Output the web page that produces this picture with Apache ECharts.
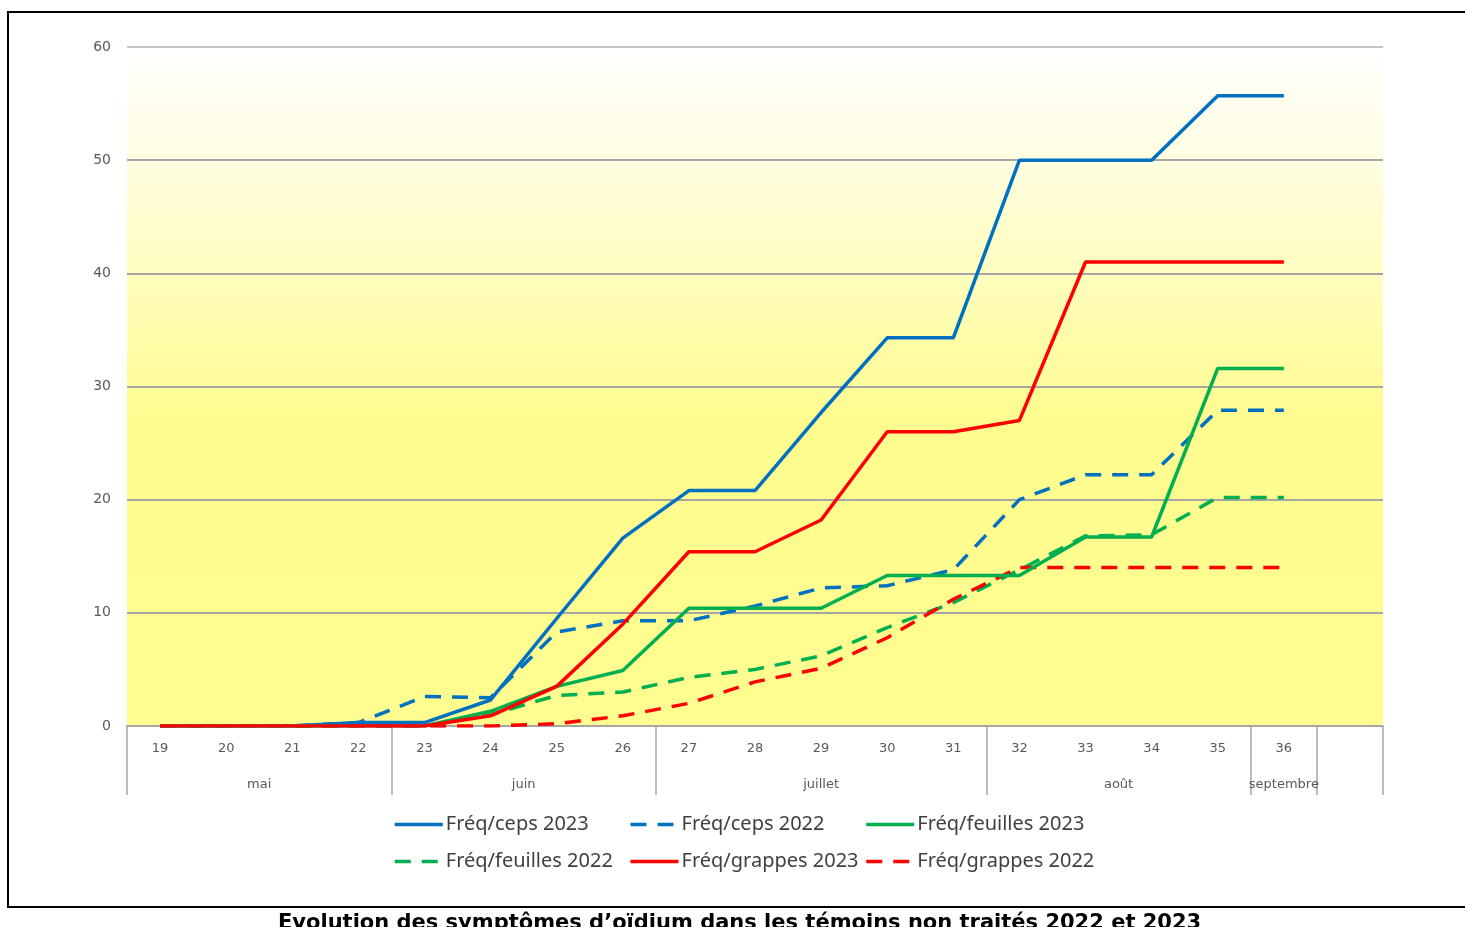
<!DOCTYPE html>
<html>
<head>
<meta charset="utf-8">
<script src="https://cdn.jsdelivr.net/npm/echarts@6/dist/echarts.min.js"></script>
<style>
html,body{margin:0;padding:0;background:#fff;}
#chart{width:1465px;height:927px;}
</style>
</head>
<body>
<div id="chart"></div>
<script>
// ---- Data ----
const weeks = ['19','20','21','22','23','24','25','26','27','28','29','30','31','32','33','34','35','36',''];
const months = ['mai','juin','juillet','août','septembre',''];
const monthSpans = [4,4,5,4,1,1];
const yTicks = [0,10,20,30,40,50,60];

const ceps2023     = [0,0,0,0.3,0.3,2.3,9.5,16.6,20.8,20.8,27.7,34.3,34.3,50.0,50.0,50.0,55.7,55.7];
const ceps2022     = [0,0,0,0.3,2.6,2.5,8.3,9.3,9.3,10.6,12.2,12.4,13.8,20.0,22.2,22.2,27.9,27.9];
const feuilles2023 = [0,0,0,0,0,1.3,3.5,4.9,10.4,10.4,10.4,13.3,13.3,13.3,16.7,16.7,31.6,31.6];
const feuilles2022 = [0,0,0,0,0,1.0,2.7,3.0,4.3,5.0,6.2,8.7,10.9,13.8,16.8,16.9,20.2,20.2];
const grappes2023  = [0,0,0,0,0,0.9,3.5,9.0,15.4,15.4,18.2,26.0,26.0,27.0,41.0,41.0,41.0,41.0];
const grappes2022  = [0,0,0,0,0,0,0.2,0.9,2.0,3.9,5.1,7.8,11.2,14.0,14.0,14.0,14.0,14.0];

const seriesNames = ['Fréq/ceps 2023','Fréq/ceps 2022','Fréq/feuilles 2023','Fréq/feuilles 2022','Fréq/grappes 2023','Fréq/grappes 2022'];
const seriesData = [ceps2023, ceps2022, feuilles2023, feuilles2022, grappes2023, grappes2022];
const seriesColors = ['#0070C0','#0070C0','#00B050','#00B050','#FF0000','#FF0000'];
const seriesDashed = [false,true,false,true,false,true];

const titleText = 'Evolution des symptômes d’oïdium dans les témoins non traités 2022 et 2023';

// month boundaries / centers in category units
const bounds = [0];
monthSpans.forEach(s => bounds.push(bounds[bounds.length-1] + s));
const centers = [];
const centerName = {};
monthSpans.forEach((s,i) => { const c = bounds[i] + s/2; centers.push(c); centerName[c] = months[i]; });
const labelCenters = centers.filter((c,i) => months[i] !== '');

const chart = echarts.init(document.getElementById('chart'));
const axisFont = {fontFamily:'DejaVu Sans', fontSize:13, color:'#595959'};

chart.setOption({
  animation:false,
  backgroundColor:'#ffffff',
  title:{
    text:titleText,
    left:278, top:913, padding:0,
    textStyle:{fontFamily:'DejaVu Sans', fontWeight:'bold', fontSize:21, color:'#000'}
  },
  graphic:[
    {type:'rect', shape:{x:8, y:12, width:1470, height:895}, style:{fill:'none', stroke:'#000', lineWidth:2}, silent:true},
    {type:'line', shape:{x1:8, y1:907, x2:1465, y2:907}, style:{stroke:'#000', lineWidth:2}, silent:true}
  ],
  legend:{
    left:393, top:806, width:720,
    padding:0, itemGap:0, itemWidth:48, itemHeight:14,
    data:seriesNames,
    itemStyle:{opacity:0},
    lineStyle:{width:3.5},
    textStyle:{fontFamily:'Noto Sans', fontSize:20, color:'#404040', width:183, lineHeight:37, padding:[0,0,0,-2]}
  },
  grid:{
    left:127, right:82, top:47, bottom:201,
    show:true, borderWidth:0,
    backgroundColor:{type:'linear', x:0, y:0, x2:0, y2:1, colorStops:[
      {offset:0, color:'#FFFFFF'},
      {offset:0.25, color:'#FFFDD0'},
      {offset:0.55, color:'#FFFC8F'},
      {offset:1, color:'#FFFC90'}
    ]}
  },
  xAxis:[
    {
      type:'category', data:weeks, boundaryGap:true, position:'bottom',
      axisLine:{show:true, lineStyle:{color:'#A6A6A6', width:1.5}},
      axisTick:{show:false},
      axisLabel:{...axisFont, margin:16, interval:0}
    },
    {
      type:'value', min:0, max:bounds[bounds.length-1], position:'bottom',
      axisLine:{show:false},
      splitLine:{show:false},
      axisTick:{show:true, customValues:bounds, length:69, lineStyle:{color:'#A6A6A6', width:1.5}},
      axisLabel:{...axisFont, customValues:labelCenters, margin:52, formatter:v => centerName[v] || ''}
    }
  ],
  yAxis:{
    type:'value', min:yTicks[0], max:yTicks[yTicks.length-1], interval:10,
    axisLine:{show:false}, axisTick:{show:false},
    axisLabel:{...axisFont, fontSize:14, margin:16},
    splitLine:{show:true, lineStyle:{color:['#A6A6A6','#A6A6A6','#A6A6A6','#A6A6A6','#A6A6A6','#A6A6A6','#C4C4C4'], width:2}}
  },
  series: seriesNames.map((n,i) => ({
    name:n, type:'line', data:seriesData[i], xAxisIndex:0,
    symbol:'none', showSymbol:false,
    color:seriesColors[i],
    lineStyle:{color:seriesColors[i], width:3.5, type: seriesDashed[i] ? [16,11] : 'solid'},
    z: seriesDashed[i] ? 2 : 3
  }))
});
</script>
</body>
</html>
